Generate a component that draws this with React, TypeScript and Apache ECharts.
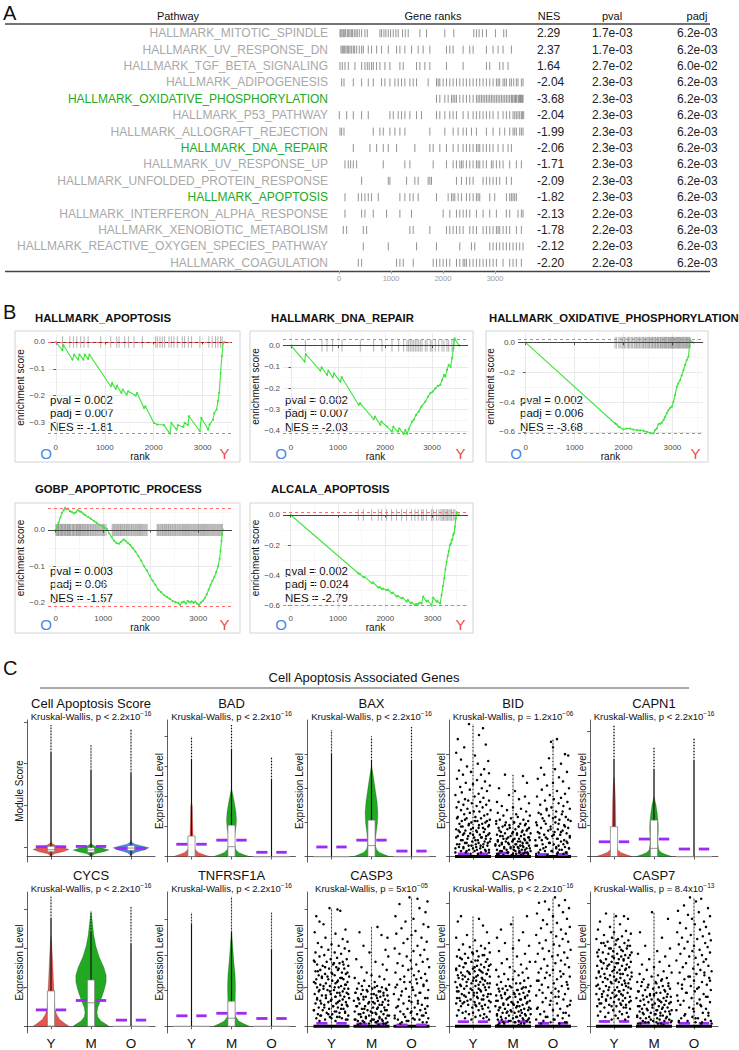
import React, { useEffect, useRef } from 'react';
import * as echarts from 'echarts';

const FONT = '"Liberation Sans", Arial, Helvetica, sans-serif';

/* ================= Panel A data ================= */
const PATHWAYS = [
  'HALLMARK_MITOTIC_SPINDLE', 'HALLMARK_UV_RESPONSE_DN', 'HALLMARK_TGF_BETA_SIGNALING', 'HALLMARK_ADIPOGENESIS',
  'HALLMARK_OXIDATIVE_PHOSPHORYLATION', 'HALLMARK_P53_PATHWAY', 'HALLMARK_ALLOGRAFT_REJECTION', 'HALLMARK_DNA_REPAIR',
  'HALLMARK_UV_RESPONSE_UP', 'HALLMARK_UNFOLDED_PROTEIN_RESPONSE', 'HALLMARK_APOPTOSIS', 'HALLMARK_INTERFERON_ALPHA_RESPONSE',
  'HALLMARK_XENOBIOTIC_METABOLISM', 'HALLMARK_REACTIVE_OXYGEN_SPECIES_PATHWAY', 'HALLMARK_COAGULATION',
];
const HIGHLIGHTED = ['HALLMARK_OXIDATIVE_PHOSPHORYLATION', 'HALLMARK_DNA_REPAIR', 'HALLMARK_APOPTOSIS'];
const NES = ['2.29', '2.37', '1.64', '-2.04', '-3.68', '-2.04', '-1.99', '-2.06', '-1.71', '-2.09', '-1.82', '-2.13', '-1.78', '-2.12', '-2.20'];
const PVAL = ['1.7e-03', '1.7e-03', '2.7e-02', '2.3e-03', '2.3e-03', '2.3e-03', '2.3e-03', '2.3e-03', '2.3e-03', '2.3e-03', '2.3e-03', '2.2e-03', '2.2e-03', '2.2e-03', '2.2e-03'];
const PADJ = ['6.2e-03', '6.2e-03', '6.0e-02', '6.2e-03', '6.2e-03', '6.2e-03', '6.2e-03', '6.2e-03', '6.2e-03', '6.2e-03', '6.2e-03', '6.2e-03', '6.2e-03', '6.2e-03', '6.2e-03'];
const RANK_TICKS = [0, 1000, 2000, 3000];
const GENE_RANKS = [
  [19, 38, 58, 83, 102, 128, 160, 186, 211, 237, 262, 294, 326, 352, 390, 435, 499, 544, 787, 819, 864, 902, 947, 992, 1043, 1094, 1139, 1222, 1274, 1331, 1555, 1683, 2035, 2208, 2592, 2643, 2694, 2758, 2835, 3008, 3168, 3219],
  [38, 64, 83, 109, 134, 160, 186, 211, 243, 275, 301, 339, 390, 435, 467, 563, 627, 723, 819, 947, 1107, 1171, 1267, 1395, 1523, 1619, 1747, 2067, 2131, 2195, 2387, 2515, 2579, 2835, 2963, 3059, 3155, 3315],
  [19, 64, 115, 179, 307, 435, 499, 544, 582, 627, 659, 723, 787, 883, 979, 1171, 1235, 1491, 1555, 1651, 1747, 2067, 2387, 2835, 2899, 3091, 3155, 3251],
  [51, 96, 275, 435, 563, 659, 819, 883, 979, 1075, 1139, 1203, 1267, 1363, 1427, 1491, 1715, 1875, 1907, 1939, 2003, 2067, 2131, 2195, 2259, 2323, 2387, 2451, 2515, 2579, 2643, 2707, 2771, 2835, 2899, 2963, 3027, 3059, 3091, 3155, 3187, 3219, 3283, 3315, 3360, 3411, 3443, 3507, 3539],
  [1875, 1939, 2035, 2099, 2163, 2195, 2227, 2259, 2323, 2387, 2451, 2515, 2579, 2643, 2675, 2707, 2739, 2771, 2803, 2835, 2867, 2899, 2931, 2963, 2995, 3027, 3059, 3091, 3123, 3155, 3187, 3219, 3251, 3283, 3315, 3330, 3347, 3379, 3395, 3411, 3443, 3460, 3475, 3490, 3507, 3525, 3540],
  [6, 147, 275, 435, 563, 979, 1043, 1139, 1203, 1267, 1363, 1491, 1587, 1875, 1939, 2035, 2131, 2195, 2259, 2387, 2483, 2579, 2643, 2707, 2771, 2835, 2899, 2963, 3059, 3155, 3219, 3283, 3347, 3379, 3411, 3443, 3475, 3507, 3526, 3552],
  [19, 51, 96, 659, 787, 851, 979, 1075, 1171, 1267, 1747, 2035, 2195, 2291, 2387, 2451, 2547, 2643, 2835, 2963, 3091, 3187, 3283, 3347, 3379, 3411, 3475, 3507, 3539],
  [275, 595, 723, 851, 947, 1107, 1459, 1747, 1811, 1939, 2067, 2195, 2291, 2387, 2451, 2515, 2579, 2643, 2675, 2707, 2771, 2835, 2899, 2963, 3059, 3155, 3251, 3315],
  [115, 179, 224, 275, 339, 851, 1267, 1363, 1811, 2067, 2195, 2259, 2323, 2355, 2387, 2451, 2515, 2579, 2643, 2675, 2707, 2771, 2835, 2931, 2963, 3027, 3091, 3155, 3283, 3411, 3507],
  [435, 947, 979, 1299, 1459, 1523, 1715, 1747, 1779, 2259, 2355, 2451, 2515, 2579, 2771, 2835, 2899, 2963, 3027, 3091, 3219, 3315],
  [115, 371, 435, 499, 563, 627, 755, 1171, 1267, 1363, 1427, 1523, 1875, 2099, 2163, 2195, 2227, 2291, 2355, 2451, 2515, 2579, 2643, 2675, 2707, 2899, 2995, 3219, 3283, 3315, 3347, 3379, 3411],
  [115, 435, 499, 659, 915, 1171, 1395, 2003, 2131, 2259, 2323, 2387, 2451, 2515, 2643, 2771, 2899, 3027, 3219, 3283, 3443, 3507, 3539],
  [83, 147, 467, 531, 1363, 1427, 1747, 2067, 2131, 2195, 2259, 2323, 2387, 2515, 2579, 2643, 2771, 2835, 2899, 2963, 3027, 3059, 3091, 3155, 3219, 3283, 3411, 3507],
  [467, 947, 1491, 1875, 2323, 2547, 2611, 2899, 2963, 3027, 3091, 3155, 3219, 3283, 3347, 3411, 3475, 3539],
  [371, 435, 1107, 1171, 1235, 1427, 1811, 1875, 1939, 2003, 2067, 2131, 2259, 2323, 2387, 2419, 2451, 2515, 2579, 2643, 2707, 2771, 2835, 2899, 2963, 3027, 3155, 3283, 3347, 3411, 3507],
];

/* ================= Panel B data ================= */
const GSEA_TITLES = ['HALLMARK_APOPTOSIS', 'HALLMARK_DNA_REPAIR', 'HALLMARK_OXIDATIVE_PHOSPHORYLATION', 'GOBP_APOPTOTIC_PROCESS', 'ALCALA_APOPTOSIS'];
const GSEA_PVAL = ['0.002', '0.002', '0.002', '0.003', '0.002'];
const GSEA_PADJ = ['0.007', '0.007', '0.006', '0.06', '0.024'];
const GSEA_NES = ['-1.81', '-2.03', '-3.68', '-1.57', '-2.79'];
const GSEA_XTICKS = [0, 1000, 2000, 3000];
const GSEA_XMINOR = [500, 1500, 2500, 3500];
const GSEA_YTICKS = [[0, -0.1, -0.2, -0.3], [0, -0.1, -0.2, -0.3, -0.4], [0, -0.2, -0.4, -0.6], [0, -0.1, -0.2], [0, -0.2, -0.4, -0.6]];
const GSEA_YMINOR = [[-0.05, -0.15, -0.25, -0.35], [-0.05, -0.15, -0.25, -0.35], [-0.1, -0.3, -0.5], [0.05, -0.05, -0.15], [-0.1, -0.3, -0.5]];

const ES_APOPTOSIS = [[0, 0], [136, -0.031], [156, -0.012], [340, -0.066], [374, -0.047], [456, -0.066], [483, -0.047], [564, -0.066], [592, -0.047], [660, -0.063], [687, -0.047], [1122, -0.165], [1149, -0.153], [1224, -0.175], [1251, -0.163], [1340, -0.19], [1367, -0.178], [1448, -0.196], [1476, -0.184], [1632, -0.2], [1660, -0.19], [1802, -0.246], [1829, -0.24], [2006, -0.302], [2074, -0.308], [2210, -0.31], [2332, -0.342], [2360, -0.302], [2468, -0.327], [2496, -0.31], [2604, -0.317], [2632, -0.302], [2700, -0.31], [2720, -0.277], [2944, -0.333], [2972, -0.283], [3114, -0.327], [3142, -0.308], [3210, -0.29], [3237, -0.265], [3284, -0.252], [3312, -0.221], [3339, -0.19], [3366, -0.116], [3393, -0.053], [3420, -0.004], [3440, 0]];
const HITS_APOPTOSIS = [136, 286, 360, 428, 510, 578, 660, 918, 1122, 1244, 1292, 1408, 1483, 1598, 1768, 2040, 2074, 2128, 2176, 2224, 2312, 2360, 2414, 2482, 2584, 2632, 2706, 2774, 2944, 3128, 3196, 3264, 3312, 3366, 3400];

const ES_DNA_REPAIR = [[0, 0], [291, -0.075], [312, -0.039], [624, -0.117], [652, -0.102], [766, -0.1375], [794, -0.117], [886, -0.148], [915, -0.13], [1049, -0.169], [1078, -0.148], [1440, -0.278], [1468, -0.27], [1758, -0.345], [1787, -0.333], [1900, -0.372], [1921, -0.356], [2042, -0.38], [2148, -0.403], [2177, -0.38], [2276, -0.403], [2304, -0.388], [2396, -0.414], [2432, -0.395], [2467, -0.414], [2503, -0.392], [2574, -0.356], [2609, -0.348], [2659, -0.325], [2716, -0.309], [2772, -0.286], [2857, -0.2625], [2914, -0.239], [2964, -0.223], [3013, -0.216], [3070, -0.2], [3127, -0.189], [3176, -0.184], [3212, -0.161], [3254, -0.1375], [3283, -0.145], [3318, -0.114], [3354, -0.09], [3396, -0.1], [3424, -0.059], [3453, -0.0125], [3481, 0.034], [3580, 0]];
const HITS_DNA_REPAIR = [305, 659, 766, 886, 1085, 1474, 1758, 1935, 2148, 2290, 2396, 2467, 2503, 2538, 2574, 2609, 2645, 2680, 2716, 2751, 2787, 2857, 2893, 2964, 2999, 3070, 3141, 3212, 3254, 3318, 3354, 3424, 3460];

const ES_OXPHOS = [[0, 0], [1828, -0.544], [1860, -0.55], [1896, -0.566], [1930, -0.57], [1998, -0.584], [2060, -0.578], [2135, -0.578], [2200, -0.585], [2271, -0.589], [2340, -0.59], [2407, -0.593], [2480, -0.6], [2544, -0.607], [2612, -0.611], [2646, -0.589], [2680, -0.578], [2714, -0.548], [2750, -0.545], [2783, -0.539], [2820, -0.52], [2851, -0.499], [2885, -0.475], [2919, -0.454], [2950, -0.44], [2987, -0.431], [3021, -0.398], [3055, -0.353], [3089, -0.297], [3120, -0.275], [3158, -0.252], [3190, -0.22], [3226, -0.184], [3260, -0.15], [3294, -0.117], [3328, -0.094], [3349, -0.027], [3362, 0.018], [3430, 0]];
const HITS_OXPHOS = [1828, 1860, 1905, 1932, 1968, 1990, 2021, 2050, 2088, 2105, 2131, 2160, 2187, 2219, 2240, 2266, 2290, 2318, 2335, 2362, 2391, 2410, 2437, 2455, 2480, 2502, 2525, 2541, 2566, 2588, 2604, 2627, 2648, 2663, 2689, 2705, 2722, 2748, 2761, 2783, 2800, 2822, 2839, 2858, 2877, 2893, 2915, 2930, 2948, 2967, 2983, 3002, 3021, 3037, 3055, 3074, 3090, 3108, 3125, 3144, 3160, 3178, 3197, 3215, 3232, 3251, 3270, 3289, 3306, 3325, 3344, 3362];

const ES_GOBP = [[0, 0], [30, 0.008], [60, 0.02], [100, 0.035], [130, 0.047], [170, 0.055], [200, 0.061], [230, 0.057], [260, 0.059], [300, 0.052], [340, 0.05], [380, 0.046], [420, 0.048], [460, 0.055], [500, 0.052], [540, 0.05], [580, 0.045], [620, 0.041], [680, 0.036], [740, 0.031], [800, 0.025], [860, 0.02], [920, 0.014], [980, 0.01], [1040, 0.006], [1080, 0.002], [1130, -0.01], [1180, -0.02], [1230, -0.03], [1280, -0.036], [1330, -0.038], [1380, -0.032], [1430, -0.026], [1470, -0.03], [1520, -0.036], [1570, -0.042], [1620, -0.05], [1680, -0.06], [1740, -0.072], [1800, -0.085], [1860, -0.1], [1920, -0.112], [1980, -0.127], [2040, -0.14], [2100, -0.152], [2160, -0.165], [2220, -0.172], [2280, -0.18], [2340, -0.185], [2400, -0.19], [2460, -0.196], [2520, -0.199], [2580, -0.202], [2620, -0.207], [2660, -0.2], [2700, -0.198], [2740, -0.203], [2780, -0.196], [2820, -0.2], [2860, -0.197], [2900, -0.201], [2940, -0.198], [2980, -0.204], [3020, -0.207], [3060, -0.2], [3100, -0.195], [3140, -0.188], [3180, -0.178], [3220, -0.165], [3260, -0.152], [3300, -0.14], [3340, -0.13], [3380, -0.116], [3420, -0.1], [3450, -0.08], [3470, -0.058], [3490, -0.03], [3505, -0.012], [3520, 0]];
const HITS_GOBP = [5, 22, 41, 58, 70, 93, 110, 128, 141, 160, 182, 199, 214, 236, 250, 271, 289, 305, 322, 348, 366, 381, 402, 425, 440, 458, 479, 497, 515, 530, 552, 571, 590, 611, 630, 655, 672, 690, 718, 735, 760, 781, 802, 826, 845, 868, 890, 912, 935, 960, 985, 1008, 1030, 1062, 1190, 1212, 1236, 1255, 1279, 1300, 1322, 1347, 1365, 1388, 1410, 1433, 1452, 1478, 1496, 1520, 1541, 1563, 1588, 1605, 1630, 1652, 1675, 1697, 1720, 1742, 1766, 1785, 1810, 1832, 1855, 1878, 1902, 1925, 2135, 2158, 2176, 2201, 2222, 2247, 2265, 2290, 2311, 2333, 2358, 2376, 2401, 2420, 2446, 2465, 2488, 2512, 2530, 2555, 2576, 2600, 2621, 2643, 2667, 2688, 2710, 2735, 2752, 2777, 2799, 2820, 2845, 2866, 2890, 2910, 2933, 2955, 2978, 3001, 3022, 3046, 3066, 3090, 3111, 3133, 3156, 3178, 3200, 3222, 3245, 3266, 3290, 3311, 3333, 3355, 3377, 3400, 3421, 3444, 3466, 3488, 3510];

const ES_ALCALA = [[0, 0], [1429, -0.386], [1460, -0.39], [1535, -0.412], [1560, -0.41], [1711, -0.45], [1740, -0.447], [1852, -0.48], [1880, -0.478], [1922, -0.49], [1950, -0.488], [2028, -0.497], [2060, -0.495], [2133, -0.517], [2160, -0.514], [2239, -0.54], [2270, -0.537], [2344, -0.552], [2370, -0.549], [2450, -0.574], [2475, -0.563], [2540, -0.584], [2560, -0.58], [2626, -0.596], [2650, -0.59], [2696, -0.59], [2720, -0.582], [2767, -0.585], [2800, -0.541], [2872, -0.572], [2900, -0.568], [2978, -0.598], [3013, -0.547], [3084, -0.574], [3100, -0.57], [3160, -0.586], [3189, -0.53], [3220, -0.47], [3245, -0.419], [3270, -0.36], [3295, -0.31], [3320, -0.27], [3340, -0.24], [3365, -0.2], [3385, -0.19], [3400, -0.166], [3420, -0.16], [3436, -0.132], [3455, -0.12], [3471, -0.077], [3492, -0.022], [3506, 0.018], [3555, 0]];
const HITS_ALCALA = [1429, 1535, 1711, 1852, 1922, 2028, 2133, 2239, 2344, 2450, 2556, 2626, 2696, 2767, 2802, 2872, 2978, 3013, 3084, 3133, 3175, 3203, 3231, 3260, 3288, 3316, 3344, 3372, 3400, 3436, 3471];

const ES_LIST = [ES_APOPTOSIS, ES_DNA_REPAIR, ES_OXPHOS, ES_GOBP, ES_ALCALA];
const HITS_LIST = [HITS_APOPTOSIS, HITS_DNA_REPAIR, HITS_OXPHOS, HITS_GOBP, HITS_ALCALA];

/* ================= Panel C data ================= */
const GROUPS = ['Y', 'M', 'O'];
const GROUP_COLORS = ['#E8554E', '#22A822', '#4D82E8'];

const SCORE_VIOLIN = [
  [[0, 0], [2, 0.08], [3.5, 0.3], [5.2, 0.45], [6.5, 0.32], [8, 0.12], [9.5, 0.03], [11, 0]],
  [[0, 0], [2, 0.1], [3.5, 0.32], [4.8, 0.45], [6, 0.3], [7.5, 0.1], [9, 0.02], [10, 0]],
  [[1, 0], [3, 0.1], [5, 0.35], [6.4, 0.45], [7.6, 0.3], [9, 0.1], [10.5, 0.02], [12, 0]],
];
const SCORE_BOX = [[3.5, 5, 7.5], [3, 4.8, 6.5], [4.5, 6.2, 8]];
const SCORE_MEAN = [7.2, 7.4, 6.0];
const SCORE_DOTS = [[76, 96.3], [63, 81.7], [61, 93.4]];

const BAD_VIOLIN = [
  [[0, 0.45], [1.5, 0.3], [3, 0.17], [5, 0.1], [7, 0.07], [10, 0.05], [15, 0.04], [25, 0.03], [37, 0.02], [40, 0]],
  [[0, 0.45], [1.5, 0.3], [3, 0.18], [5, 0.11], [8, 0.08], [12, 0.075], [16, 0.085], [22, 0.115], [27, 0.125], [33, 0.11], [40, 0.07], [46, 0.03], [50, 0]],
  null,
];
const BAD_BOX = [[0, 0, 15], [0, 7.2, 23], null];
const BAD_MEAN = [9, 12, 3.1];
const BAD_DOTS = [[70.7, 87.8], [78, 96.3], [56, 73]];

const BAX_VIOLIN = [
  null,
  [[0, 0.45], [1.5, 0.32], [3, 0.2], [5, 0.13], [8, 0.1], [12, 0.1], [18, 0.12], [25, 0.15], [32, 0.16], [40, 0.14], [48, 0.1], [56, 0.06], [62, 0.03], [67, 0]],
  null,
];
const BAX_BOX = [null, [0, 8, 26.7], null];
const BAX_MEAN = [7, 12, 4];
const BAX_DOTS = [[75, 92.7], [70, 88], [70, 95]];

const CAPN1_VIOLIN = [
  [[0, 0.45], [1.5, 0.3], [3, 0.17], [5, 0.09], [8, 0.06], [15, 0.05], [25, 0.045], [40, 0.035], [50, 0.025], [56, 0.01], [58, 0]],
  [[0, 0.45], [1.5, 0.3], [3, 0.18], [5, 0.12], [9, 0.1], [14, 0.1], [20, 0.11], [25, 0.105], [32, 0.08], [38, 0.05], [44, 0]],
  null,
];
const CAPN1_BOX = [[0, 0, 21.8], [0, 6, 26.7], null];
const CAPN1_MEAN = [10.8, 12.8, 5.5];
const CAPN1_DOTS = [[70.7, 96.3], [63.4, 80], [70, 86.8]];

const CYCS_VIOLIN = [
  [[0, 0.45], [2, 0.35], [5, 0.22], [9, 0.14], [13, 0.1], [18, 0.085], [26, 0.075], [35, 0.06], [45, 0.045], [55, 0.03], [63, 0.015], [67, 0]],
  [[0, 0.45], [2, 0.35], [4, 0.25], [7, 0.17], [10, 0.15], [14, 0.17], [20, 0.25], [27, 0.33], [33, 0.38], [38, 0.38], [44, 0.32], [52, 0.2], [60, 0.12], [68, 0.07], [76, 0.04], [84, 0.01], [86, 0]],
  null,
];
const CYCS_BOX = [[0, 0, 26.3], [0, 17.5, 34.5], null];
const CYCS_MEAN = [12.2, 19.2, 4.6];
const CYCS_DOTS = [[80, 96.5], [70, 84.6], [61, 89.2]];

const TNF_VIOLIN = [
  null,
  [[0, 0.45], [2, 0.3], [4, 0.18], [7, 0.11], [10, 0.09], [15, 0.085], [22, 0.095], [30, 0.1], [38, 0.09], [48, 0.06], [58, 0.035], [66, 0.015], [71, 0]],
  null,
];
const TNF_BOX = [null, [0, 6, 18.7], null];
const TNF_MEAN = [7.8, 9.7, 5.8];
const TNF_DOTS = [[76, 84.6], [70, 96.5], [57, 84.6]];

// jittered cells: [jitter (hundredths of a category), value, ...]
const BID_Y = [-10, 97, 25, 94, -38, 86, 15, 89, 32, 82, -22, 80, -42, 76, 5, 74, -30, 71, 38, 70, 12, 68, -15, 66, 28, 64, -5, 62, 40, 61, -35, 63, 20, 60, -25, 60, -40, 57, 10, 56, 30, 55, -18, 54, 0, 53, 42, 52, -32, 51, 22, 50, -8, 49, 35, 48, -28, 47, 14, 46, -44, 45, 4, 44, 26, 43, -20, 42, 40, 41, -12, 41, 18, 40, -36, 40, -3, 39, 33, 38, -24, 38, 9, 37, -41, 36, 24, 36, -14, 35, 44, 34, -30, 34, 2, 33, 16, 33, -8, 32, 36, 31, -22, 31, 28, 30, -38, 29, 6, 29, -16, 28, 20, 28, 42, 27, -28, 26, 11, 26, -4, 25, 31, 25, -34, 24, 23, 24, -11, 23, 38, 22, -26, 22, 0, 21, 14, 21, -42, 20, 8, 19, -19, 19, 27, 18, -33, 18, 41, 17, -7, 17, 17, 16, -25, 16, 33, 15, -38, 15, 3, 14, 22, 14, -14, 13, 44, 13, -30, 12, 12, 12, -2, 11, 29, 11, -20, 10, 37, 10, -40, 9, 7, 9, -11, 8, 19, 8, -35, 7, 25, 7, 0, 6, -24, 6, 40, 5, 10, 5, -16, 4, 32, 4, -44, 3, 20, 3, -6, 2,
  -40, 28, -20, 27, 5, 26, 35, 26, -10, 24, 15, 23, 40, 23, -30, 22, 25, 21, -5, 20, 30, 20, -36, 19, 10, 18, -22, 17, 38, 16, 0, 16, -12, 15, 20, 14, -42, 14, 32, 13, -26, 12, 6, 12, 42, 11, -16, 10, 14, 10, -34, 9, 26, 9, -4, 8, 36, 8, -24, 7, 8, 7, -44, 6, 18, 6, 30, 5, -10, 5, -30, 4, 4, 4, 40, 3, -18, 3, 12, 2];
const BID_M = [-20, 60, 25, 59, 35, 54, -35, 50, 5, 48, -10, 45, 30, 44, 15, 42, -40, 40, 40, 39, -28, 37, 0, 36, 20, 35, -15, 34, 33, 33, -38, 32, 8, 31, -24, 30, 42, 30, 12, 29, -5, 28, 26, 27, -33, 27, 38, 26, -18, 25, 3, 25, 18, 24, -42, 24, 30, 23, -9, 23, -26, 22, 14, 22, 40, 21, -36, 21, 6, 20, -14, 20, 24, 19, 34, 19, -30, 18, 0, 18, 44, 17, -20, 17, 10, 17, -40, 16, 28, 16, -6, 15, 20, 15, -32, 15, 38, 14, -12, 14, 4, 13, 15, 13, -24, 13, 42, 12, -38, 12, 30, 12, -2, 11, 12, 11, -18, 11, 24, 10, -28, 10, 36, 10, 8, 9, -44, 9, -10, 9, 18, 8, 40, 8, -34, 8, 2, 7, 26, 7, -22, 7, 14, 6, -6, 6, 34, 6, -40, 5, 22, 5, -16, 5, 44, 4, 6, 4, -28, 4, 30, 3, -12, 3, 16, 3, -36, 2, 38, 2, 0, 2,
  -42, 26, 2, 25, 32, 24, -20, 23, 14, 22, -8, 21, 36, 20, -34, 19, 22, 18, -2, 17, 10, 16, -26, 15, 40, 14, -16, 13, 28, 13, 0, 12, -38, 11, 18, 11, -12, 10, 34, 10, 6, 9, -28, 9, 24, 8, -44, 8, 12, 7, -6, 7, 42, 6, -22, 6, 30, 5, 2, 5, -32, 4, 16, 4, -14, 3, 36, 3, 8, 2, -40, 2, 26, 2, -4, 1, 20, 1, -24, 1];
const BID_O = [10, 86, -5, 84, 0, 80, 30, 75, 38, 74, -10, 72, 20, 68, -30, 65, 5, 64, 35, 62, -22, 60, 15, 58, -38, 57, 25, 55, 0, 54, -15, 52, 40, 50, -28, 49, 10, 48, 30, 46, -8, 45, -40, 44, 20, 43, 2, 42, -20, 41, 36, 40, 14, 39, -32, 38, 26, 37, -4, 36, 42, 35, -16, 34, 8, 33, -36, 32, 22, 31, -10, 30, 32, 29, 0, 28, -26, 28, 16, 27, 44, 26, -42, 25, 6, 25, -18, 24, 28, 23, -6, 22, 38, 21, -30, 21, 12, 20, -12, 19, 24, 19, -38, 18, 4, 18, 34, 17, -22, 16, 18, 16, -2, 15, 42, 14, -34, 14, 10, 13, -14, 13, 28, 12, -44, 12, 20, 11, -8, 10, 36, 10, -26, 9, 2, 9, 14, 8, -40, 8, 30, 7, -18, 7, 8, 6, 40, 6, -32, 5, 22, 5, -4, 4, -20, 4, 34, 3, 12, 3, -42, 2, 26, 2,
  -16, 35, 24, 33, -30, 31, 6, 29, 38, 27, -22, 26, 14, 24, -40, 23, 30, 22, -6, 20, 20, 18, -34, 17, 2, 16, 42, 15, -18, 14, 12, 13, -28, 12, 34, 11, -10, 10, 26, 9, -44, 8, 8, 7, 40, 6, -24, 6, 16, 5, -2, 4, 32, 3, -36, 3, 10, 2, -14, 1];
const BID_MEAN = [2, 2.5, 1.5];

const CASP3_Y = [-5, 88, 15, 87, 22, 86, -38, 82, -30, 78, -20, 76, 35, 72, -42, 70, 10, 69, -15, 66, 28, 65, 40, 63, -34, 62, 0, 61, 18, 60, -25, 59, 33, 58, -8, 57, 44, 56, -40, 55, 8, 55, 24, 54, -18, 53, -30, 52, 14, 51, 38, 50, -2, 50, -44, 49, 28, 48, -12, 48, 20, 47, -36, 46, 4, 46, 42, 45, -22, 45, 12, 44, -6, 43, 32, 43, -28, 42, 16, 42, -40, 41, 26, 40, 0, 40, -16, 39, 36, 39, -32, 38, 8, 38, 44, 37, -10, 37, 22, 36, -24, 36, 30, 35, -38, 35, 2, 34, 16, 34, -44, 33, 40, 33, -14, 32, 10, 32, -28, 31, 34, 31, 24, 30, -4, 30, -36, 29, 18, 29, 42, 28, -20, 28, 6, 27, -10, 27, 28, 26, -32, 26, 14, 25, 38, 25, -42, 24, -2, 24, 22, 23, -24, 23, 32, 22, 10, 22, -14, 21, 44, 21, -36, 20, 0, 20, 20, 19, -28, 19, 36, 18, -8, 18, 12, 17, -40, 17, 26, 16, -18, 16, 4, 15, 40, 15, -32, 14, 16, 14, -6, 13, 30, 13, -22, 12, -44, 12, 8, 11, 34, 11, -12, 10, 20, 10, -34, 9, 2, 9, 42, 8, -26, 8, 14, 7, -4, 7, 26, 6, -38, 6, 36, 5, -16, 5, 10, 4, -30, 4,
  -42, 48, 6, 47, 30, 46, -16, 44, 18, 43, -34, 41, 40, 40, 2, 39, -24, 37, 26, 36, -8, 35, 14, 33, -40, 32, 36, 31, -20, 30, 8, 29, 32, 28, -30, 27, -4, 26, 20, 25, 42, 24, -14, 23, 10, 22, -36, 21, 28, 20, -2, 19, 16, 18, -26, 17, 38, 16, 4, 15, -18, 14, 24, 13, -44, 12, 12, 11, 34, 10, -8, 9, -28, 8, 20, 7, 0, 6, 40, 5];
const CASP3_M = [15, 74, -30, 70, 25, 68, 40, 66, -20, 60, 35, 57, -5, 55, 42, 52, -38, 50, 10, 48, 28, 46, -25, 44, 38, 42, -12, 40, 0, 38, 20, 37, -42, 36, 32, 35, -18, 34, 8, 33, -32, 32, 44, 31, 14, 30, -6, 30, 26, 29, -36, 28, 2, 28, 38, 27, -22, 27, 18, 26, -10, 26, 30, 25, -40, 25, 6, 24, -26, 24, 40, 23, 12, 23, -14, 22, 22, 22, -34, 21, 0, 21, 34, 20, -20, 20, 16, 19, -44, 19, 28, 18, -6, 18, 8, 17, -30, 17, 42, 16, 20, 16, -16, 15, -38, 15, 32, 14, 4, 14, -24, 13, 14, 13, 38, 12, -10, 12, -42, 11, 24, 11, 2, 10, -20, 10, 30, 9, -32, 9, 12, 9, 44, 8, -6, 8, 20, 7, -26, 7, 36, 6, -14, 6, 6, 5, -40, 5, 26, 5, -2, 4, 16, 4, -34, 4, 40, 3, -18, 3, 10, 3, 30, 2, -28, 2,
  -24, 30, 8, 29, 36, 28, -12, 27, 22, 26, -40, 25, 0, 24, 30, 23, -20, 22, 14, 21, -32, 20, 42, 19, 4, 18, -8, 17, 26, 16, -36, 15, 16, 14, -18, 13, 34, 12, -2, 11, 10, 10, -28, 9, 40, 8, -14, 7, 20, 6, -42, 5, 2, 5, 28, 4, -22, 4, 12, 3, -6, 2, 36, 2, -34, 1, 18, 1];
const CASP3_O = [-5, 96, 15, 95, 40, 93, -30, 91, 20, 88, 35, 85, -40, 82, 5, 80, -15, 78, 30, 76, 42, 74, -25, 73, 10, 71, -38, 69, 0, 68, 25, 66, -10, 65, 38, 63, -20, 62, 15, 60, -42, 58, 32, 57, 5, 56, -30, 54, 22, 53, -12, 52, 40, 50, -2, 49, 28, 48, -35, 47, 12, 46, -22, 45, 44, 44, 0, 43, -8, 42, 18, 41, -40, 40, 34, 39, 6, 38, -18, 37, 24, 36, -28, 35, 38, 34, -4, 33, 14, 32, -36, 31, 30, 30, 2, 29, -14, 28, 42, 27, -24, 26, 20, 25, -44, 24, 10, 23, -6, 22, 34, 21, -32, 20, 16, 19, 0, 18, -20, 17, 26, 16, 40, 15, -38, 14, 8, 14, -10, 13, 22, 12, -28, 11, 36, 10, -2, 10, 14, 9, -42, 8, 30, 8, -16, 7, 4, 6, 42, 6, -34, 5, 20, 5, -8, 4, 28, 3, -24, 3,
  12, 35, -18, 33, 30, 31, -40, 29, 4, 27, 22, 25, -26, 23, 40, 21, -6, 19, 16, 17, -34, 15, 34, 13, 0, 11, -20, 9, 26, 8, -42, 6, 8, 5, -12, 4, 38, 3, -28, 2];
const CASP3_MEAN = [2.2, 1.7, 1.0];

const CASP6_Y = [-30, 82, 15, 80, -38, 78, 25, 75, 35, 70, -15, 68, -42, 66, 5, 64, 40, 62, -25, 61, 20, 60, -8, 59, 30, 58, -35, 57, 10, 56, 42, 55, -20, 54, 0, 54, 24, 53, -40, 52, 14, 52, -12, 51, 36, 50, -28, 50, 6, 49, 32, 48, -4, 48, -18, 47, 20, 46, 44, 46, -34, 45, 10, 45, -24, 44, 28, 44, 0, 43, -42, 43, 16, 42, 38, 42, -14, 41, 4, 41, -30, 40, 24, 40, 34, 39, -8, 39, -38, 38, 12, 38, -20, 37, 42, 37, 2, 36, 22, 36, -26, 35, -12, 35, 30, 34, 8, 34, -44, 33, 18, 33, -4, 32, 36, 32, -32, 31, 26, 31, -16, 30, 6, 30, -40, 29, 40, 29, 14, 28, -22, 28, -2, 27, 32, 27, -36, 26, 20, 26, 10, 25, -10, 25, 44, 24, -28, 24, 2, 23, 26, 23, -18, 22, 36, 22, -40, 21, 12, 21, -6, 20, 22, 20, -32, 19, 40, 19, 4, 18, -22, 18, 16, 17, -42, 17, 30, 16, -12, 16, 8, 15, -30, 15, 38, 14, -2, 14, 24, 13, -36, 12, 14, 12, -18, 11, 42, 11, 0, 10, -26, 10, 28, 9, -10, 9, 18, 8, -40, 8, 34, 7, 6, 7, -20, 6, 26, 6, -4, 5, 40, 5,
  -2, 55, 28, 53, -32, 51, 12, 49, -20, 47, 40, 45, 4, 44, -42, 42, 20, 41, -10, 40, 34, 39, -26, 38, 8, 37, -36, 36, 24, 35, 0, 34, -16, 33, 42, 32, 14, 31, -30, 30, 30, 29, -6, 28, 18, 27, -40, 26, 2, 25, 38, 24, -22, 23, 10, 22, -34, 21, 26, 20, -14, 19, 44, 18, -26, 17, 6, 16, 22, 15];
const CASP6_M = [35, 82, -5, 76, -30, 72, 25, 70, -40, 66, 15, 64, -20, 62, 40, 60, 0, 58, -35, 56, 30, 54, 10, 52, -15, 50, 42, 48, -28, 47, 20, 46, -8, 44, 34, 43, -42, 42, 4, 41, 24, 40, -22, 39, 14, 38, -36, 37, 38, 36, -12, 35, 0, 35, 28, 34, -30, 33, 18, 32, 8, 32, -40, 31, 44, 30, -18, 30, 32, 29, -4, 29, 22, 28, -26, 28, 10, 27, -14, 27, 40, 26, -34, 26, 2, 25, 26, 25, -20, 24, 16, 24, -42, 23, 36, 23, -8, 22, 6, 22, 30, 21, -28, 21, 20, 20, -16, 20, -38, 19, 42, 19, 12, 18, -4, 18, 34, 17, -24, 17, 2, 16, 24, 16, -12, 16, -44, 15, 16, 15, 40, 14, -32, 14, 8, 14, -20, 13, 28, 13, -6, 12, 38, 12, -36, 12, 14, 11, -14, 11, 22, 10, -26, 10, 4, 10, 44, 9, -40, 9, 32, 8, -10, 8, 18, 8, -30, 7, 10, 7, 40, 6, -18, 6, 0, 6, 26, 5, -38, 5, -6, 4, 34, 4, 14, 4, -24, 3, 42, 3, 6, 3, -34, 2, 20, 2,
  -8, 30, 26, 29, -36, 28, 12, 27, 40, 26, -20, 25, 4, 24, -30, 23, 30, 22, -12, 21, 18, 20, -42, 19, 36, 18, 0, 17, -24, 16, 10, 15, -34, 14, 44, 13, 20, 12, -4, 11, -16, 10, 30, 9, -40, 8, 8, 7, 24, 6, -28, 5, 38, 5, -10, 4, 4, 3, -22, 2, 28, 2, -38, 1, 14, 1];
const CASP6_O = [5, 96, 30, 94, -20, 93, -35, 92, 15, 90, 40, 88, -10, 87, 25, 85, -40, 84, 0, 82, 35, 80, -25, 79, 10, 77, -15, 76, 42, 74, -30, 73, 20, 72, -5, 70, 32, 69, -42, 68, 8, 67, 24, 65, -18, 64, 38, 63, -34, 62, 2, 61, 16, 60, -26, 58, 44, 57, -10, 56, 28, 55, -38, 54, 12, 53, -2, 52, 36, 51, -22, 50, 20, 49, -44, 48, 6, 47, 30, 46, -14, 45, 40, 44, -30, 43, 0, 42, 18, 41, -36, 40, 26, 39, -8, 38, 42, 37, -20, 36, 10, 35, -40, 34, 34, 33, 2, 32, -28, 31, 22, 30, -12, 29, 38, 28, -34, 27, 14, 26, -4, 25, 30, 24, -42, 23, 6, 22, -18, 21, 26, 20, 44, 19, -26, 18, 10, 17, -8, 16, 36, 15, -38, 14, 18, 13, 0, 12, -22, 11, 32, 10, -32, 9, 12, 8, 40, 8, -14, 7, 24, 6, -42, 5, 4, 5, -24, 4, 30, 3, -6, 3, 16, 2,
  -16, 40, 20, 37, -36, 34, 36, 31, 6, 28, -26, 25, 14, 22, -6, 19, 42, 16, -40, 13, 26, 10, -18, 7, 2, 5, 34, 3, -30, 2];
const CASP6_MEAN = [3.4, 3.4, 2.2];

const CASP7_Y = [-20, 84, 5, 82, 25, 82, 35, 80, -35, 78, 15, 76, -10, 74, -40, 72, 30, 71, 0, 70, 42, 69, -25, 68, 20, 67, -5, 66, -44, 65, 10, 65, 36, 64, -16, 63, 26, 62, -32, 62, 4, 61, 40, 60, -22, 60, 14, 59, -8, 58, 32, 58, -38, 57, 22, 56, -2, 56, 44, 55, -28, 55, 8, 54, -14, 54, 28, 53, -40, 52, 18, 52, 0, 51, 36, 51, -20, 50, 12, 50, -34, 49, 24, 49, -6, 48, 42, 48, -26, 47, 6, 47, 32, 46, -12, 46, -42, 45, 20, 45, 2, 44, 38, 44, -18, 43, -30, 43, 14, 42, 28, 42, -4, 41, -38, 41, 8, 40, 44, 40, -24, 39, 22, 39, -10, 38, 34, 38, 0, 37, -34, 37, 16, 36, -44, 36, 40, 35, -16, 35, 26, 34, 4, 34, -28, 33, 12, 33, -6, 32, 36, 32, -40, 31, 20, 31, -20, 30, 30, 30, 8, 29, -12, 29, -36, 28, 42, 28, 2, 27, 24, 27, -26, 26, 14, 26, -4, 25, 34, 25, -44, 24, 18, 24, -16, 23, 6, 23, 40, 22, -30, 22, 28, 21, -8, 21, -38, 20, 12, 20, 22, 19, -20, 19, 0, 18, 38, 18, -32, 17, 16, 17, -12, 16, 30, 16, -42, 15, 6, 15, 24, 14, -24, 14, 40, 13, -2, 12, 14, 11, -34, 11, 32, 10, -14, 10, 20, 9, -40, 8, 4, 8, 36, 7, -22, 7, 10, 6, -6, 5, 28, 5,
  6, 64, -26, 62, 34, 60, -12, 58, 18, 57, -42, 55, 40, 53, -4, 52, 24, 50, -32, 48, 10, 47, -16, 45, 30, 43, 0, 42, -38, 40, 16, 39, 44, 37, -22, 36, 6, 35, -8, 33, 28, 32, -44, 30, 36, 29, -14, 27, 12, 26, -30, 24, 22, 23, 2, 22, -20, 20, 42, 19, -36, 17, 18, 16, -6, 15, 30, 14];
const CASP7_M = [-5, 85, 35, 80, -35, 70, 20, 66, -22, 60, 40, 58, 8, 56, -40, 54, 28, 52, -12, 50, 14, 48, -30, 46, 38, 45, 0, 44, -18, 42, 24, 41, 44, 40, -36, 39, 10, 38, -6, 37, 32, 36, -26, 35, 18, 34, -42, 33, 4, 33, 36, 32, -14, 31, 22, 30, -32, 30, 12, 29, -2, 28, 40, 28, -22, 27, 28, 26, -38, 26, 6, 25, 16, 25, -10, 24, 34, 24, -28, 23, 0, 23, 42, 22, -18, 22, 24, 21, -44, 21, 10, 20, -6, 20, 30, 19, -34, 19, 18, 18, -14, 18, 38, 17, 2, 17, -24, 16, 26, 16, 12, 15, -40, 15, -4, 14, 34, 14, 20, 13, -30, 13, 6, 12, -16, 12, 44, 12, -36, 11, 28, 11, -8, 10, 16, 10, -26, 9, 40, 9, 2, 9, -42, 8, 22, 8, -12, 7, 32, 7, 8, 6, -20, 6, -34, 6, 14, 5, 38, 5, -2, 4, 26, 4, -28, 4, 6, 3, -14, 3, 42, 3, -40, 2, 18, 2,
  20, 35, -30, 33, 6, 32, 36, 30, -16, 29, 26, 27, -40, 26, 0, 24, -10, 23, 32, 22, -26, 20, 14, 19, 42, 18, -4, 16, -36, 15, 22, 14, -18, 13, 8, 12, 38, 11, -28, 10, 4, 9, 16, 8, -42, 7, 30, 6, -8, 5, 44, 4, -22, 3, 10, 2, -34, 2, 24, 1];
const CASP7_O = [-10, 96, 18, 95, 5, 93, -25, 90, 35, 88, -40, 86, 12, 85, -15, 83, 40, 82, -5, 80, 25, 78, -35, 77, 2, 76, 30, 74, -20, 73, 15, 72, -42, 70, 38, 69, -8, 68, 22, 67, -30, 66, 8, 65, 42, 64, -16, 63, 28, 62, -38, 61, 0, 60, 34, 59, -24, 58, 14, 57, -4, 56, 40, 55, -34, 54, 20, 53, -12, 52, 4, 51, 30, 50, -44, 49, 24, 48, -20, 47, 10, 46, 36, 45, -28, 44, -2, 43, 16, 42, 44, 41, -36, 40, 6, 39, 26, 38, -14, 37, 38, 36, -24, 35, 0, 34, 20, 33, -40, 32, 32, 31, -8, 30, 12, 29, -30, 28, 42, 27, 2, 26, -18, 25, 24, 24, -42, 23, 34, 22, -6, 21, 14, 20, -26, 19, 40, 18, 8, 17, -34, 16, 18, 15, -12, 14, 30, 13, -44, 12, 0, 11, 22, 10, -22, 9, 36, 8, -4, 7, 10, 6, -32, 6, 28, 5, -16, 4, 42, 4, 4, 3, -38, 3, 18, 2,
  26, 40, -10, 37, 40, 34, -30, 31, 8, 28, -20, 25, 30, 22, -40, 19, 16, 16, -2, 13, 36, 10, -24, 8, 4, 6, -38, 4, 20, 3, 44, 2];
const CASP7_MEAN = [3.6, 2.4, 2.2];

const SIG16 = ['p < 2.2x10', '\u221216'];
const C_PANELS: any[] = [
  { title: 'Cell Apoptosis Score', p: SIG16, ylab: 'Module Score', yticks: [7, 37.5, 68, 98], violin: SCORE_VIOLIN, box: SCORE_BOX, mean: SCORE_MEAN, dots: SCORE_DOTS, colors: GROUP_COLORS },
  { title: 'BAD', p: SIG16, ylab: 'Expression Level', yticks: [0, 22, 44, 66, 88], violin: BAD_VIOLIN, box: BAD_BOX, mean: BAD_MEAN, dots: BAD_DOTS, colors: GROUP_COLORS },
  { title: 'BAX', p: SIG16, ylab: 'Expression Level', yticks: [0, 25, 50, 75], violin: BAX_VIOLIN, box: BAX_BOX, mean: BAX_MEAN, dots: BAX_DOTS, colors: GROUP_COLORS },
  { title: 'BID', p: ['p = 1.2x10', '\u221206'], ylab: 'Expression Level', yticks: [0, 25, 50, 75], points: [BID_Y, BID_M, BID_O], mean: BID_MEAN },
  { title: 'CAPN1', p: SIG16, ylab: 'Expression Level', yticks: [0, 23, 46, 69, 92], violin: CAPN1_VIOLIN, box: CAPN1_BOX, mean: CAPN1_MEAN, dots: CAPN1_DOTS, colors: GROUP_COLORS },
  { title: 'CYCS', p: SIG16, ylab: 'Expression Level', yticks: [0, 29, 58, 87], violin: CYCS_VIOLIN, box: CYCS_BOX, mean: CYCS_MEAN, dots: CYCS_DOTS, colors: GROUP_COLORS },
  { title: 'TNFRSF1A', p: SIG16, ylab: 'Expression Level', yticks: [0, 26.5, 53, 79.5], violin: TNF_VIOLIN, box: TNF_BOX, mean: TNF_MEAN, dots: TNF_DOTS, colors: GROUP_COLORS },
  { title: 'CASP3', p: ['p = 5x10', '\u221205'], ylab: 'Expression Level', yticks: [0, 29, 58, 87], points: [CASP3_Y, CASP3_M, CASP3_O], mean: CASP3_MEAN },
  { title: 'CASP6', p: SIG16, ylab: 'Expression Level', yticks: [0, 30.5, 61, 91.5], points: [CASP6_Y, CASP6_M, CASP6_O], mean: CASP6_MEAN },
  { title: 'CASP7', p: ['p = 8.4x10', '\u221213'], ylab: 'Expression Level', yticks: [0, 30.5, 61, 91.5], points: [CASP7_Y, CASP7_M, CASP7_O], mean: CASP7_MEAN },
];

/* ================= Layout ================= */
const A_LAYOUT = { left: 339, top: 25, width: 187.2, height: 246, rankMax: 3600 };
const B_LAYOUT = [
  { box: [15, 331, 225, 131], grid: [48, 335, 184, 105], x: [-160, 3600], y: [-0.3657, 0.0261], title: [35, 318] },
  { box: [250, 331, 223, 131], grid: [283, 333, 185, 107], x: [-170, 3765], y: [-0.4427, 0.0596], title: [271, 318] },
  { box: [486, 331, 222, 131], grid: [518, 333, 185, 107], x: [-157, 3626], y: [-0.6552, 0.0653], title: [489, 318] },
  { box: [15, 503, 225, 130], grid: [48, 505, 184, 106], x: [-162, 3712], y: [-0.2238, 0.069], title: [35, 489] },
  { box: [250, 503, 223, 130], grid: [283, 505, 185, 106], x: [-163, 3748], y: [-0.6358, 0.0662], title: [271, 489] },
];
const C_X = [27, 167.5, 307.5, 449, 590];
const C_W = 128;
const C_ROWS = [{ top: 720, h: 142, min: -4 }, { top: 892, h: 144, min: -5 }];
const PURPLE = '#9B2BF5';

function fmtES(v: number) {
  if (Math.abs(v) < 1e-9) return '0.0';
  return (v < 0 ? '\u2212' : '') + Math.abs(v).toFixed(1);
}
const plainNum = (v: number) => String(Math.round(v));

function buildOption(): any {
  const grid: any[] = [];
  const xAxis: any[] = [];
  const yAxis: any[] = [];
  const series: any[] = [];
  const graphic: any[] = [];

  const txt = (text: string, x: number, y: number, st: any = {}) =>
    graphic.push({
      type: 'text', x, y, silent: true,
      style: { text, fontFamily: FONT, fontSize: 12, fill: '#111', align: 'left', verticalAlign: 'middle', ...st },
    });
  const seg = (x1: number, y1: number, x2: number, y2: number, stroke = '#333', lineWidth = 1) =>
    graphic.push({ type: 'line', silent: true, shape: { x1, y1, x2, y2 }, style: { stroke, lineWidth } });
  const frame = (x: number, y: number, width: number, height: number, stroke: string) =>
    graphic.push({ type: 'rect', silent: true, shape: { x, y, width, height }, style: { fill: 'none', stroke, lineWidth: 1 } });

  txt('A', 3, 13, { fontSize: 20 });
  txt('B', 3, 312, { fontSize: 20 });
  txt('C', 3, 668, { fontSize: 20 });

  /* ---------- Panel A ---------- */
  const A = A_LAYOUT;
  grid.push({ left: A.left, top: A.top, width: A.width, height: A.height });
  xAxis.push({
    gridIndex: 0, type: 'value', min: 0, max: A.rankMax,
    axisLine: { show: false }, splitLine: { show: false },
    axisTick: { show: true, length: 3, lineStyle: { color: '#aaa' }, customValues: RANK_TICKS },
    axisLabel: { customValues: RANK_TICKS, fontSize: 7.5, color: '#999', margin: 3, fontFamily: FONT, formatter: plainNum },
  });
  yAxis.push({
    gridIndex: 0, type: 'category', inverse: true, data: PATHWAYS,
    axisLine: { show: false }, axisTick: { show: false },
    axisLabel: {
      interval: 0, margin: 11, fontSize: 12, fontFamily: FONT,
      color: (v: string) => (HIGHLIGHTED.indexOf(v) >= 0 ? '#22AA22' : '#A9A9A9'),
    },
  });
  [NES, PVAL, PADJ].forEach((col, k) => {
    yAxis.push({
      gridIndex: 0, type: 'category', inverse: true, data: PATHWAYS, position: 'right', offset: [0, 55, 140][k],
      axisLine: { show: false }, axisTick: { show: false },
      axisLabel: { interval: 0, margin: 10.7, fontSize: 12, color: '#222', fontFamily: FONT, formatter: (_v: string, i: number) => col[i] },
    });
  });
  const rankData: number[][] = [];
  GENE_RANKS.forEach((row, i) => row.forEach((r) => rankData.push([r, i])));
  series.push({
    type: 'custom', xAxisIndex: 0, yAxisIndex: 0, data: rankData, encode: { x: 0, y: 1 }, silent: true,
    renderItem: (_p: any, api: any) => {
      const c = api.coord([api.value(0), api.value(1)]);
      return { type: 'line', shape: { x1: c[0], y1: c[1] - 4, x2: c[0], y2: c[1] + 4 }, style: { stroke: '#777', lineWidth: 0.8 } };
    },
  });
  [['Pathway', 178], ['Gene ranks', 433], ['NES', 549], ['pval', 612], ['padj', 697]].forEach(([t, x]) =>
    txt(t as string, x as number, 16, { align: 'center', fontSize: 11 }));
  seg(5, 24, 710, 24, '#444', 1.3);
  seg(5, 271.5, 710, 271.5, '#444', 1.3);

  /* ---------- Panel B ---------- */
  B_LAYOUT.forEach((L, k) => {
    const [gl, gt, gw, gh] = L.grid;
    grid.push({ left: gl, top: gt, width: gw, height: gh });
    const gi = grid.length - 1;
    xAxis.push({
      gridIndex: gi, type: 'value', min: L.x[0], max: L.x[1],
      axisLine: { show: false },
      axisTick: { show: true, length: 2.5, lineStyle: { color: '#555' }, customValues: GSEA_XTICKS },
      axisLabel: { customValues: GSEA_XTICKS, fontSize: 8, color: '#4d4d4d', margin: 3, fontFamily: FONT, formatter: plainNum },
      splitLine: { show: true, lineStyle: { color: '#e4e4e4', width: 0.8 } },
      name: 'rank', nameLocation: 'middle', nameGap: 8.5, nameTextStyle: { fontSize: 10, color: '#111', fontFamily: FONT },
    });
    const xi = xAxis.length - 1;
    xAxis.push({
      gridIndex: gi, type: 'value', min: L.x[0], max: L.x[1], position: 'bottom',
      axisLine: { show: false }, axisTick: { show: false, customValues: GSEA_XMINOR }, axisLabel: { show: false },
      splitLine: { show: true, lineStyle: { color: '#f2f2f2', width: 0.6 } },
    });
    yAxis.push({
      gridIndex: gi, type: 'value', min: L.y[0], max: L.y[1],
      axisLine: { show: false },
      axisTick: { show: true, length: 2.5, lineStyle: { color: '#555' }, customValues: GSEA_YTICKS[k] },
      axisLabel: { customValues: GSEA_YTICKS[k], fontSize: 8, color: '#4d4d4d', margin: 3, fontFamily: FONT, formatter: (v: number) => fmtES(v) },
      splitLine: { show: true, lineStyle: { color: '#e4e4e4', width: 0.8 } },
      name: 'enrichment score', nameLocation: 'middle', nameGap: 15, nameRotate: 90,
      nameTextStyle: { fontSize: 10, color: '#111', fontFamily: FONT },
    });
    const yi = yAxis.length - 1;
    yAxis.push({
      gridIndex: gi, type: 'value', min: L.y[0], max: L.y[1], position: 'left',
      axisLine: { show: false }, axisTick: { show: false, customValues: GSEA_YMINOR[k] }, axisLabel: { show: false },
      splitLine: { show: true, lineStyle: { color: '#f2f2f2', width: 0.6 } },
    });

    const es = ES_LIST[k];
    const vals = es.map((d) => d[1]);
    const esMax = Math.max(...vals);
    const esMin = Math.min(...vals);
    const half = (esMax - esMin) / 16;
    const red = { color: '#FF6B6B', type: [3, 3], width: 1 };
    series.push({
      type: 'line', xAxisIndex: xi, yAxisIndex: yi, data: es, silent: true,
      showSymbol: true, symbol: 'circle', symbolSize: 2,
      itemStyle: { color: '#3FE43F' }, lineStyle: { color: '#3FE43F', width: 1.1 },
      markLine: {
        silent: true, symbol: ['none', 'none'], label: { show: false },
        data: [
          { yAxis: 0, lineStyle: { color: '#444', type: 'solid', width: 1 } },
          { yAxis: esMax, lineStyle: red },
          { yAxis: esMin, lineStyle: red },
        ],
      },
    });
    series.push({
      type: 'custom', xAxisIndex: xi, yAxisIndex: yi, silent: true,
      data: HITS_LIST[k].map((r) => [r, 0]), encode: { x: 0, y: 1 },
      renderItem: (_p: any, api: any) => {
        const a = api.coord([api.value(0), -half]);
        const b = api.coord([api.value(0), half]);
        return { type: 'line', shape: { x1: a[0], y1: a[1], x2: b[0], y2: b[1] }, style: { stroke: 'rgba(0,0,0,0.3)', lineWidth: 1 } };
      },
    });

    const [bx, by, bw, bh] = L.box;
    frame(bx, by, bw, bh, '#d4d4d4');
    txt(GSEA_TITLES[k], L.title[0], L.title[1], { fontSize: 11.3, fontWeight: 'bold' });
    const bottom = gt + gh;
    txt('pval = ' + GSEA_PVAL[k], gl + 2, bottom - 40.5, { fontSize: 11.5 });
    txt('padj = ' + GSEA_PADJ[k], gl + 2, bottom - 26.7, { fontSize: 11.5 });
    txt('NES = ' + GSEA_NES[k], gl + 2, bottom - 12.8, { fontSize: 11.5 });
    txt('O', gl - 2, bottom + 13.5, { fontSize: 15, fill: '#4A86E8', align: 'center' });
    txt('Y', gl + gw - 7.5, bottom + 13.5, { fontSize: 15, fill: '#F04848', align: 'center' });
  });

  /* ---------- Panel C ---------- */
  txt('Cell Apoptosis Associated Genes', 364, 677, { fontSize: 13, align: 'center' });
  seg(40, 688, 689, 688, '#555', 1);

  const subRich = {
    m: { fontSize: 9.5, fontFamily: FONT, fill: '#111', lineHeight: 12, verticalAlign: 'bottom' },
    s: { fontSize: 6.5, fontFamily: FONT, fill: '#111', lineHeight: 12, verticalAlign: 'top' },
  };

  C_PANELS.forEach((P, idx) => {
    const row = idx < 5 ? 0 : 1;
    const R = C_ROWS[row];
    const left = C_X[idx % 5];
    grid.push({ left, top: R.top, width: C_W, height: R.h });
    const gi = grid.length - 1;
    xAxis.push({
      gridIndex: gi, type: 'value', min: 0.4, max: 3.6,
      axisLine: { show: true, lineStyle: { color: '#333', width: 0.8 } },
      axisTick: { show: true, length: 3, lineStyle: { color: '#333', width: 0.8 }, customValues: [1, 2, 3] },
      axisLabel: { show: row === 1, customValues: [1, 2, 3], formatter: (v: number) => GROUPS[Math.round(v) - 1], fontSize: 13.5, color: '#111', margin: 3, fontFamily: FONT },
      splitLine: { show: false },
    });
    const xi = xAxis.length - 1;
    yAxis.push({
      gridIndex: gi, type: 'value', min: R.min, max: 100,
      axisLine: { show: true, lineStyle: { color: '#333', width: 0.8 } },
      axisTick: { show: true, length: 3, lineStyle: { color: '#333', width: 0.8 }, customValues: P.yticks },
      axisLabel: { show: false }, splitLine: { show: false },
      name: P.ylab, nameLocation: 'middle', nameGap: 3, nameRotate: 90,
      nameTextStyle: { fontSize: 10, color: '#111', fontFamily: FONT },
    });
    const yi = yAxis.length - 1;
    txt(P.title, left + C_W / 2, R.top - 17, { fontSize: 13, align: 'center' });
    txt('{m|Kruskal-Wallis, ' + P.p[0] + '}{s|' + P.p[1] + '}', left + C_W / 2, R.top - 4.5, { align: 'center', rich: subRich });

    const dashes = (api: any, cx: number, v: number) => {
      const out: any[] = [];
      [[-0.38, -0.1], [0.12, 0.38]].forEach(([a, b]) => {
        const p1 = api.coord([cx + a, v]);
        const p2 = api.coord([cx + b, v]);
        out.push({ type: 'line', shape: { x1: p1[0], y1: p1[1], x2: p2[0], y2: p2[1] }, style: { stroke: PURPLE, lineWidth: 2.8 } });
      });
      return out;
    };
    const vline = (api: any, cx: number, v1: number, v2: number, style: any) => {
      const a = api.coord([cx, v1]);
      const b = api.coord([cx, v2]);
      return { type: 'line', shape: { x1: a[0], y1: a[1], x2: b[0], y2: b[1] }, style };
    };
    const hline = (api: any, x1: number, x2: number, v: number, style: any) => {
      const a = api.coord([x1, v]);
      const b = api.coord([x2, v]);
      return { type: 'line', shape: { x1: a[0], y1: a[1], x2: b[0], y2: b[1] }, style };
    };
    const groupData = [[1, 0], [2, 0], [3, 0]];

    if (P.violin) {
      series.push({
        type: 'custom', xAxisIndex: xi, yAxisIndex: yi, data: groupData, encode: { x: 0, y: 1 }, silent: true, clip: false,
        renderItem: (params: any, api: any) => {
          const g = params.dataIndex;
          const cx = g + 1;
          const children: any[] = [];
          const [dense, top] = P.dots[g];
          children.push(vline(api, cx, 0, top, { stroke: '#999', lineWidth: 0.8 }));
          const prof = P.violin[g];
          if (prof) {
            const right = prof.map((d: number[]) => api.coord([cx + d[1], d[0]]));
            const leftSide = prof.slice().reverse().map((d: number[]) => api.coord([cx - d[1], d[0]]));
            children.push({ type: 'polygon', shape: { points: right.concat(leftSide) }, style: { fill: P.colors[g], stroke: 'rgba(0,0,0,0.45)', lineWidth: 0.4 } });
          } else {
            children.push(hline(api, cx - 0.45, cx + 0.45, 0, { stroke: '#999', lineWidth: 1.2 }));
          }
          children.push(vline(api, cx, 0, dense, { stroke: '#111', lineWidth: 1.15 }));
          children.push(vline(api, cx, dense, top, { stroke: '#111', lineWidth: 1.2, lineDash: [1, 2] }));
          const bx = P.box[g];
          if (bx) {
            const tl = api.coord([cx - 0.09, bx[2]]);
            const br = api.coord([cx + 0.09, bx[0]]);
            children.push({ type: 'rect', shape: { x: tl[0], y: tl[1], width: br[0] - tl[0], height: br[1] - tl[1] }, style: { fill: '#fff', stroke: '#777', lineWidth: 0.7 } });
            children.push(hline(api, cx - 0.09, cx + 0.09, bx[1], { stroke: '#777', lineWidth: 0.8 }));
          }
          dashes(api, cx, P.mean[g]).forEach((d) => children.push(d));
          return { type: 'group', children };
        },
      });
    } else {
      const maxes = P.points.map((arr: number[]) => {
        let m = 0;
        for (let i = 1; i < arr.length; i += 2) m = Math.max(m, arr[i]);
        return m;
      });
      series.push({
        type: 'custom', xAxisIndex: xi, yAxisIndex: yi, data: groupData, encode: { x: 0, y: 1 }, silent: true, clip: false,
        renderItem: (params: any, api: any) => {
          const g = params.dataIndex;
          const cx = g + 1;
          return {
            type: 'group', children: [
              vline(api, cx, 0, maxes[g], { stroke: '#999', lineWidth: 0.8 }),
              vline(api, cx, 0, maxes[g], { stroke: '#222', lineWidth: 1.1, lineDash: [1, 2.5] }),
            ],
          };
        },
      });
      const pts: number[][] = [];
      P.points.forEach((arr: number[], g: number) => {
        for (let i = 0; i < arr.length; i += 2) pts.push([g + 1 + arr[i] / 100, arr[i + 1]]);
      });
      series.push({
        type: 'scatter', xAxisIndex: xi, yAxisIndex: yi, data: pts, symbolSize: 2.5, silent: true,
        itemStyle: { color: '#000', opacity: 1 },
      });
      series.push({
        type: 'custom', xAxisIndex: xi, yAxisIndex: yi, data: groupData, encode: { x: 0, y: 1 }, silent: true, clip: false,
        renderItem: (params: any, api: any) => {
          const g = params.dataIndex;
          const cx = g + 1;
          const children: any[] = [hline(api, cx - 0.45, cx + 0.45, 0, { stroke: '#000', lineWidth: 3 })];
          dashes(api, cx, P.mean[g]).forEach((d) => children.push(d));
          return { type: 'group', children };
        },
      });
    }
  });

  return {
    animation: false,
    backgroundColor: '#fff',
    textStyle: { fontFamily: FONT },
    grid, xAxis, yAxis, series, graphic,
  };
}

export default function App() {
  const ref = useRef<HTMLDivElement>(null);
  useEffect(() => {
    if (!ref.current) return;
    const chart = echarts.init(ref.current, undefined, { renderer: 'svg' });
    chart.setOption(buildOption());
    return () => chart.dispose();
  }, []);
  return <div ref={ref} style={{ position: 'absolute', left: 0, top: 0, width: 739, height: 1050, background: '#fff' }} />;
}
